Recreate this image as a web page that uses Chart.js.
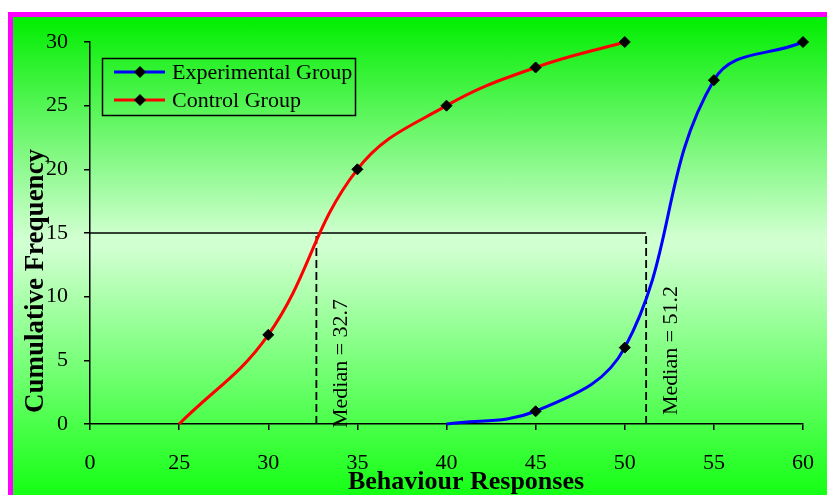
<!DOCTYPE html>
<html>
<head>
<meta charset="utf-8">
<title>Cumulative Frequency of Behaviour Responses</title>
<script src="https://cdn.jsdelivr.net/npm/chart.js@4.4.1/dist/chart.umd.min.js"></script>
<style>
  html, body { margin: 0; padding: 0; background: #ffffff; overflow: hidden; }
  #frame {
    position: absolute; left: 8px; top: 12px; width: 900px; height: 560px;
    border: 5px solid #ff00ff; box-sizing: border-box;
    background: linear-gradient(to bottom, #00ee00 0px, #d0ffd0 220px, #d0ffd0 232px, #11ff11 483px, #11ff11 560px);
  }
  #wrap { position: absolute; left: 0; top: 0; width: 827px; height: 495px; }
</style>
</head>
<body>
<div id="frame"></div>
<div id="wrap"><canvas id="chart" width="827" height="495"></canvas></div>
<script>
// Cumulative frequencies by behaviour-response score
const controlScores = [25, 30, 35, 40, 45, 50];
const controlCumFreq = [0, 7, 20, 25, 28, 30];
const experimentalScores = [40, 45, 50, 55, 60];
const experimentalCumFreq = [0, 1, 6, 27, 30];

// Broken x axis: the first tick stands for 0, the rest run 25..60
const xTickValues = [20, 25, 30, 35, 40, 45, 50, 55, 60];
const xTickLabels = ['0', '25', '30', '35', '40', '45', '50', '55', '60'];
const yTickValues = [0, 5, 10, 15, 20, 25, 30];

const medianFrequency = 15;
const controlMedian = 32.7;
const experimentalMedian = 51.2;

const legendLabels = ['Experimental Group', 'Control Group'];
const xTitle = 'Behaviour Responses';
const yTitle = 'Cumulative Frequency';

const SERIF = '"Liberation Serif", "Times New Roman", serif';

const toPoints = (xs, ys) => xs.map((x, i) => ({ x: x, y: ys[i] }));
const markerRadii = n => Array.from({ length: n }, (_, i) => (i === 0 ? 0 : 5.5));

const curveStyle = (color, n) => ({
  borderColor: color,
  borderWidth: 3,
  tension: 0.4,
  clip: false,
  pointStyle: 'rectRot',
  pointRadius: markerRadii(n),
  pointHoverRadius: markerRadii(n),
  pointBackgroundColor: '#000000',
  pointBorderColor: '#000000',
  pointBorderWidth: 1,
  fill: false
});

const guideStyle = dash => ({
  borderColor: '#000000',
  borderWidth: dash ? 1.8 : 1.5,
  borderDash: dash ? [8, 4] : [],
  pointRadius: 0,
  tension: 0,
  fill: false
});

// Median annotations, axis titles and the boxed legend
const decorations = {
  id: 'decorations',
  afterDraw(chart) {
    const ctx = chart.ctx;
    const xs = chart.scales.x;
    const ds = chart.data.datasets;

    ctx.save();
    ctx.fillStyle = '#000000';

    // rotated median labels next to the dashed lines
    ctx.font = '22px ' + SERIF;
    ctx.textBaseline = 'middle';
    ctx.textAlign = 'left';
    [[controlMedian, 428], [experimentalMedian, 415]].forEach(([m, bottom]) => {
      ctx.save();
      ctx.translate(xs.getPixelForValue(m) + 25, bottom);
      ctx.rotate(-Math.PI / 2);
      ctx.fillText('Median = ' + m, 0, 0);
      ctx.restore();
    });

    // axis titles
    ctx.font = 'bold 26px ' + SERIF;
    ctx.textAlign = 'center';
    ctx.textBaseline = 'alphabetic';
    ctx.fillText(xTitle, 466, 489);
    ctx.save();
    ctx.translate(43, 281);
    ctx.rotate(-Math.PI / 2);
    ctx.font = 'bold 27px ' + SERIF;
    ctx.fillText(yTitle, 0, 0);
    ctx.restore();

    // legend box
    ctx.lineWidth = 1.5;
    ctx.strokeStyle = '#000000';
    ctx.strokeRect(102.5, 58.5, 253, 57);
    ctx.font = '22px ' + SERIF;
    ctx.textAlign = 'left';
    ctx.textBaseline = 'middle';
    [ds[0], ds[1]].forEach((d, i) => {
      const y = 72 + i * 28;
      ctx.strokeStyle = d.borderColor;
      ctx.lineWidth = 3;
      ctx.beginPath();
      ctx.moveTo(114, y);
      ctx.lineTo(165, y);
      ctx.stroke();
      ctx.fillStyle = '#000000';
      ctx.beginPath();
      ctx.moveTo(140, y - 6);
      ctx.lineTo(146, y);
      ctx.lineTo(140, y + 6);
      ctx.lineTo(134, y);
      ctx.closePath();
      ctx.fill();
      ctx.fillText(legendLabels[i], 172, y + 1);
    });
    ctx.restore();
  }
};

new Chart(document.getElementById('chart'), {
  type: 'line',
  data: {
    datasets: [
      Object.assign({ label: legendLabels[0], data: toPoints(experimentalScores, experimentalCumFreq) },
        curveStyle('#0000ff', experimentalScores.length)),
      Object.assign({ label: legendLabels[1], data: toPoints(controlScores, controlCumFreq) },
        curveStyle('#ff0000', controlScores.length)),
      Object.assign({ label: 'median level', data: [{ x: xTickValues[0], y: medianFrequency }, { x: experimentalMedian, y: medianFrequency }] },
        guideStyle(false)),
      Object.assign({ label: 'control median', data: [{ x: controlMedian, y: 0 }, { x: controlMedian, y: medianFrequency }] },
        guideStyle(true)),
      Object.assign({ label: 'experimental median', data: [{ x: experimentalMedian, y: 0 }, { x: experimentalMedian, y: medianFrequency }] },
        guideStyle(true))
    ]
  },
  options: {
    responsive: false,
    animation: false,
    events: [],
    layout: { padding: { left: 0, right: 24, top: 42, bottom: 0 } },
    plugins: { legend: { display: false }, tooltip: { enabled: false }, title: { display: false } },
    scales: {
      x: {
        type: 'linear',
        min: xTickValues[0],
        max: xTickValues[xTickValues.length - 1],
        afterBuildTicks: s => { s.ticks = xTickValues.map(v => ({ value: v })); },
        afterFit: s => { s.height = 71; s.paddingLeft = 0; s.paddingRight = 0; },
        ticks: {
          autoSkip: false,
          maxRotation: 0,
          padding: 20,
          color: '#000000',
          font: { family: SERIF, size: 22 },
          callback: v => xTickLabels[xTickValues.indexOf(v)]
        },
        grid: { drawOnChartArea: false, drawTicks: true, tickLength: 6, color: '#000000', lineWidth: 1.5 },
        border: { display: true, color: '#000000', width: 1.5 }
      },
      y: {
        type: 'linear',
        min: yTickValues[0],
        max: yTickValues[yTickValues.length - 1],
        afterBuildTicks: s => { s.ticks = yTickValues.map(v => ({ value: v })); },
        afterFit: s => { s.width = 90; s.paddingTop = 0; s.paddingBottom = 0; },
        ticks: {
          padding: 16,
          color: '#000000',
          font: { family: SERIF, size: 22 }
        },
        grid: { drawOnChartArea: false, drawTicks: true, tickLength: 6, color: '#000000', lineWidth: 1.5 },
        border: { display: true, color: '#000000', width: 1.5 }
      }
    }
  },
  plugins: [decorations]
});
</script>
</body>
</html>
